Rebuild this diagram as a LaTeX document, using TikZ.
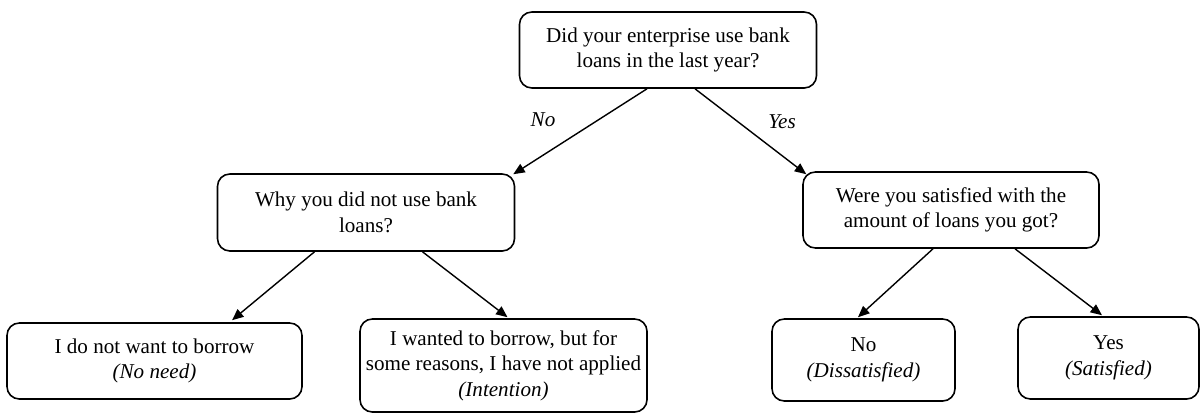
\documentclass[tikz,border=0pt]{standalone}
\usepackage{fontspec}
\setmainfont{Liberation Serif}
\newfontfamily\qfont{Liberation Serif}
\usepackage{tikz}
\usetikzlibrary{arrows.meta, positioning, calc}
\tikzset{
    block_q/.style={rectangle, draw, line width=0.9pt, rounded corners=7pt, fill=white, align=center, font=\qfont\fontsize{12}{14.5}\selectfont, inner sep=2pt},
    arrow/.style={-{Triangle[length=6.5pt, width=5.5pt]}, line width=0.8pt}
}
\begin{document}
\begin{tikzpicture}
            % Canvas
            \useasboundingbox (0, 0) rectangle (24.02, 8.3);

            % Question nodes
            \node (loans) [block_q, minimum width=5.94cm, minimum height=1.52cm] at (13.36, 7.30) {Did your enterprise use bank\\loans in the last year?};
            \node (why) [block_q, minimum width=5.94cm, minimum height=1.54cm] at (7.32, 4.05) {Why you did not use bank\\loans?};
            \node (satq) [block_q, minimum width=5.92cm, minimum height=1.52cm] at (19.02, 4.10) {Were you satisfied with the\\amount of loans you got?};

            % Answer nodes
            \node (noneed) [block_q, minimum width=5.9cm, minimum height=1.52cm] at (3.09, 1.08) {I do not want to borrow\\\textit{(No need)}};
            \node (intent) [block_q, minimum width=5.74cm, minimum height=1.86cm] at (10.07, 0.99) {I wanted to borrow, but for\\some reasons, I have not applied\\\textit{(Intention)}};
            \node (dissat) [block_q, minimum width=3.66cm, minimum height=1.64cm] at (17.27, 1.10) {No\\\textit{(Dissatisfied)}};
            \node (satis) [block_q, minimum width=3.62cm, minimum height=1.64cm] at (22.17, 1.14) {Yes\\\textit{(Satisfied)}};

            % Connections
            \draw [arrow] ([xshift=-0.42cm]loans.south) -- ([xshift=-0.04cm, yshift=-0.02cm]why.north east);
            \draw [arrow] ([xshift=0.54cm]loans.south) -- ([xshift=0.08cm, yshift=-0.06cm]satq.north west);
            \draw [arrow] ([xshift=-1.03cm]why.south) -- ([xshift=1.55cm, yshift=0.04cm]noneed.north);
            \draw [arrow] ([xshift=1.13cm]why.south) -- ([xshift=0.08cm, yshift=0.02cm]intent.north);
            \draw [arrow] ([xshift=-0.36cm]satq.south) -- ([xshift=-0.11cm, yshift=0.02cm]dissat.north);
            \draw [arrow] ([xshift=1.28cm]satq.south) -- ([xshift=-0.13cm, yshift=0.02cm]satis.north);

            % Branch labels
            \node (lblno) at (10.86, 5.90) [font=\qfont\fontsize{12}{14.5}\selectfont\itshape] {No};
            \node (lblyes) at (15.64, 5.86) [font=\qfont\fontsize{12}{14.5}\selectfont\itshape] {Yes};
\end{tikzpicture}
\end{document}
